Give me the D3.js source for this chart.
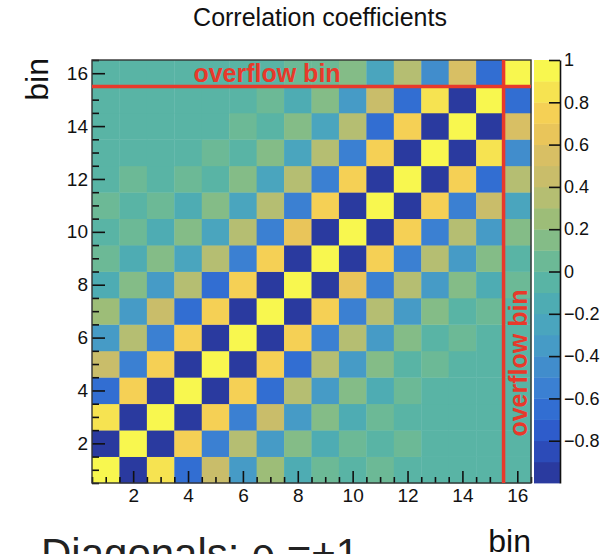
<!DOCTYPE html>
<html>
<head>
<meta charset="utf-8">
<script src="https://cdn.jsdelivr.net/npm/d3@7"></script>
<style>
  html, body { margin: 0; padding: 0; background: #fff; }
  svg { display: block; font-family: "Liberation Sans", Arial, Helvetica, sans-serif; }
</style>
</head>
<body>
<div id="chart"></div>
<script>
// Bin numbers (bin 16 is the overflow bin)
const bins = [1, 2, 3, 4, 5, 6, 7, 8, 9, 10, 11, 12, 13, 14, 15, 16];

// Correlation coefficients, one array per y bin, values for x bins 1..16
const rhoY1  = [1, -0.95, 0.85, -0.65, 0.45, -0.35, 0.25, -0.15, 0.05, 0, 0.05, 0, 0, 0, 0, 0];
const rhoY2  = [-0.95, 1, -0.95, 0.75, -0.55, 0.35, -0.35, 0.15, -0.15, 0.05, 0, 0.05, 0, 0, 0, 0];
const rhoY3  = [0.85, -0.95, 1, -0.95, 0.75, -0.55, 0.45, -0.35, 0.15, -0.15, 0.05, 0, 0, 0, 0, 0];
const rhoY4  = [-0.65, 0.75, -0.95, 1, -0.95, 0.75, -0.65, 0.35, -0.35, 0.15, -0.15, 0.05, 0, 0, 0, 0];
const rhoY5  = [0.45, -0.55, 0.75, -0.95, 1, -0.95, 0.75, -0.65, 0.35, -0.35, 0.15, 0, 0.05, 0, 0, 0];
const rhoY6  = [-0.35, 0.35, -0.55, 0.75, -0.95, 1, -0.95, 0.75, -0.55, 0.35, -0.35, 0.15, 0, 0.05, 0, 0];
const rhoY7  = [0.25, -0.35, 0.45, -0.65, 0.75, -0.95, 1, -0.95, 0.75, -0.55, 0.35, -0.35, 0.15, 0, 0.05, 0];
const rhoY8  = [-0.15, 0.15, -0.35, 0.35, -0.65, 0.75, -0.95, 1, -0.95, 0.65, -0.55, 0.35, -0.35, 0.15, -0.15, 0.05];
const rhoY9  = [0.05, -0.15, 0.15, -0.25, 0.35, -0.55, 0.75, -0.95, 1, -0.95, 0.75, -0.55, 0.35, -0.35, 0.15, 0];
const rhoY10 = [0, 0.05, -0.15, 0.15, -0.25, 0.35, -0.55, 0.65, -0.95, 1, -0.95, 0.75, -0.55, 0.35, -0.35, 0.15];
const rhoY11 = [0.05, 0, 0.05, -0.15, 0.15, -0.25, 0.35, -0.55, 0.75, -0.95, 1, -0.95, 0.75, -0.55, 0.45, -0.25];
const rhoY12 = [0, 0.05, 0, 0.05, 0, 0.15, -0.25, 0.35, -0.55, 0.75, -0.95, 1, -0.95, 0.75, -0.65, 0.35];
const rhoY13 = [0, 0, 0, 0, 0.05, 0, 0.15, -0.25, 0.35, -0.55, 0.75, -0.95, 1, -0.95, 0.85, -0.45];
const rhoY14 = [0, 0, 0, 0, 0, 0.05, 0, 0.15, -0.25, 0.35, -0.65, 0.75, -0.95, 1, -0.95, 0.55];
const rhoY15 = [0, 0, 0, 0, 0, 0, 0.05, -0.15, 0.15, -0.35, 0.45, -0.65, 0.85, -0.95, 1, -0.65];
const rhoY16 = [0, 0, 0, 0, 0, 0, 0, 0.05, 0.05, 0.15, -0.25, 0.35, -0.45, 0.55, -0.65, 1];
const rhoRows = [rhoY1, rhoY2, rhoY3, rhoY4, rhoY5, rhoY6, rhoY7, rhoY8,
                 rhoY9, rhoY10, rhoY11, rhoY12, rhoY13, rhoY14, rhoY15, rhoY16];

// Axis tick labels
const axisTicks = [2, 4, 6, 8, 10, 12, 14, 16];
const paletteTicks = [-0.8, -0.6, -0.4, -0.2, 0, 0.2, 0.4, 0.6, 0.8, 1];

// 20 contour levels of the palette, from -1 up to +1
const paletteColors = [
  "#2a3a9f", "#2c4bb8", "#2e5ccb", "#326ed2", "#3b80d2",
  "#418dcc", "#469bc6", "#4aa5be", "#4eacb3", "#59b4a5",
  "#6cb996", "#84bc87", "#9dbd78", "#b5be72", "#c9bd6a",
  "#d8bf64", "#e9c55a", "#f5d055", "#f6e351", "#f8f74f"
];

const W = 613, H = 554;
const plot = { left: 92, right: 531, top: 60, bottom: 483 };
const pal = { left: 534, right: 560 };
const red = "#e8392b";

const svg = d3.select("#chart").append("svg")
    .attr("width", W)
    .attr("height", H);

const x = d3.scaleLinear().domain([0.5, 16.5]).range([plot.left, plot.right]);
const y = d3.scaleLinear().domain([0.5, 16.5]).range([plot.bottom, plot.top]);
const z = d3.scaleLinear().domain([-1, 1]).range([0, paletteColors.length]);

// ROOT style: value sits in level k when lo < v <= hi
function levelColor(v) {
    const k = Math.min(paletteColors.length - 1, Math.max(0, Math.ceil(z(v) - 1e-9) - 1));
    return paletteColors[k];
}

const cells = [];
rhoRows.forEach((row, j) => {
    row.forEach((v, i) => cells.push({ bx: bins[i], by: bins[j], v: v }));
});

// Heat map cells
svg.append("g")
    .selectAll("rect")
    .data(cells)
    .join("rect")
    .attr("x", d => x(d.bx - 0.5))
    .attr("y", d => y(d.by + 0.5))
    .attr("width", d => x(d.bx + 0.5) - x(d.bx - 0.5) + 0.4)
    .attr("height", d => y(d.by - 0.5) - y(d.by + 0.5) + 0.4)
    .attr("fill", d => levelColor(d.v));

// Axes with ticks pointing into the frame
const minorTicks = d3.range(0.5, 16.51, 0.5).filter(t => !axisTicks.includes(t));

svg.append("g")
    .attr("transform", `translate(0,${plot.bottom})`)
    .call(d3.axisBottom(x).tickValues(minorTicks).tickSize(-6).tickFormat(""))
    .call(g => g.select(".domain").remove());

svg.append("g")
    .attr("transform", `translate(0,${plot.bottom})`)
    .call(d3.axisBottom(x).tickValues(axisTicks).tickSize(-12).tickPadding(6))
    .call(g => g.select(".domain").remove())
    .call(g => g.selectAll("text").style("font-size", "19px").attr("fill", "#111"));

svg.append("g")
    .attr("transform", `translate(${plot.left},0)`)
    .call(d3.axisLeft(y).tickValues(minorTicks).tickSize(-7).tickFormat(""))
    .call(g => g.select(".domain").remove());

svg.append("g")
    .attr("transform", `translate(${plot.left},0)`)
    .call(d3.axisLeft(y).tickValues(axisTicks).tickSize(-13).tickPadding(4))
    .call(g => g.select(".domain").remove())
    .call(g => g.selectAll("text").style("font-size", "19px").attr("fill", "#111"));

svg.selectAll(".tick line").attr("stroke", "#111").attr("stroke-width", 1.6);

// Frame
svg.append("rect")
    .attr("x", plot.left)
    .attr("y", plot.top)
    .attr("width", plot.right - plot.left)
    .attr("height", plot.bottom - plot.top)
    .attr("fill", "none")
    .attr("stroke", "#333")
    .attr("stroke-width", 1.4);

// Overflow bin markers
svg.append("line")
    .attr("x1", plot.left).attr("x2", plot.right)
    .attr("y1", y(15.5)).attr("y2", y(15.5))
    .attr("stroke", red).attr("stroke-width", 3.5);

svg.append("line")
    .attr("x1", x(15.5)).attr("x2", x(15.5))
    .attr("y1", plot.top).attr("y2", plot.bottom)
    .attr("stroke", red).attr("stroke-width", 3.5);

svg.append("text")
    .attr("x", 267)
    .attr("y", 82)
    .attr("text-anchor", "middle")
    .attr("fill", red)
    .style("font-size", "25px")
    .style("font-weight", "bold")
    .text("overflow bin");

svg.append("text")
    .attr("transform", "translate(527,363) rotate(-90)")
    .attr("text-anchor", "middle")
    .attr("fill", red)
    .style("font-size", "25px")
    .style("font-weight", "bold")
    .text("overflow bin");

// Palette (colour bar)
const zy = d3.scaleLinear().domain([-1, 1]).range([plot.bottom, plot.top]);
const levels = paletteColors.map((c, k) => ({ lo: -1 + k * 0.1, hi: -0.9 + k * 0.1, c: c }));

svg.append("g")
    .selectAll("rect")
    .data(levels)
    .join("rect")
    .attr("x", pal.left)
    .attr("y", d => zy(d.hi))
    .attr("width", pal.right - pal.left)
    .attr("height", d => zy(d.lo) - zy(d.hi) + 0.4)
    .attr("fill", d => d.c);

svg.append("g")
    .attr("transform", `translate(${pal.right},0)`)
    .call(d3.axisRight(zy).tickValues(paletteTicks).tickSize(-11).tickSizeOuter(0)
        .tickPadding(4).tickFormat(d3.format("")))
    .call(g => g.select(".domain").attr("stroke", "#111").attr("stroke-width", 1.6))
    .call(g => g.selectAll(".tick line").attr("stroke", "#111").attr("stroke-width", 1.6))
    .call(g => g.selectAll("text").style("font-size", "18px").attr("fill", "#111"));

// Titles
svg.append("text")
    .attr("x", 320)
    .attr("y", 26)
    .attr("text-anchor", "middle")
    .attr("fill", "#111")
    .style("font-size", "25px")
    .text("Correlation coefficients");

svg.append("text")
    .attr("transform", "translate(48,58) rotate(-90)")
    .attr("text-anchor", "end")
    .attr("fill", "#111")
    .style("font-size", "32px")
    .text("bin");

svg.append("text")
    .attr("x", plot.right)
    .attr("y", 552)
    .attr("text-anchor", "end")
    .attr("fill", "#111")
    .style("font-size", "32px")
    .text("bin");

// Slide caption, cut by the bottom edge
svg.append("text")
    .attr("x", 41)
    .attr("y", 568)
    .attr("fill", "#222")
    .style("font-size", "42px")
    .text("Diagonals: ρ =+1");
</script>
</body>
</html>
